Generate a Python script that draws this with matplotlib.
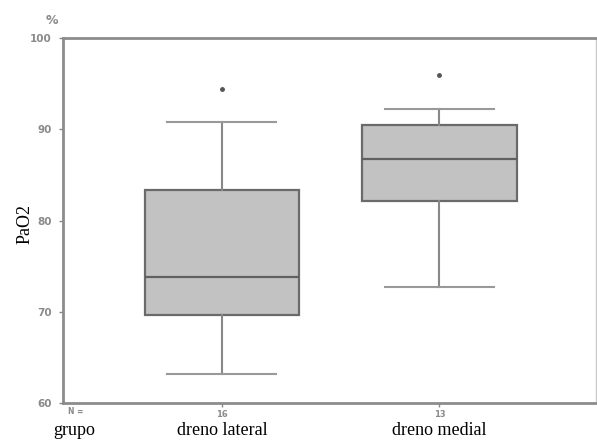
import numpy as np
import matplotlib.pyplot as plt

#---Data---
groups = ['dreno lateral', 'dreno medial']
counts = [16, 13]
whislo = [63.2, 72.7]
q1 = [69.6, 82.1]
med = [73.8, 86.7]
q3 = [83.4, 90.5]
whishi = [90.8, 92.2]
outliers = [[94.4], [96.0]]

stats = []
for i in range(len(groups)):
    stats.append(dict(label=groups[i], whislo=whislo[i], q1=q1[i], med=med[i],
                      q3=q3[i], whishi=whishi[i], fliers=outliers[i]))

#---Plot---
fig = plt.figure(figsize=(5.97, 4.44), dpi=100)
ax = fig.add_axes([0.1055, 0.0923, 0.893, 0.822])

ax.bxp(stats, positions=[1, 2], widths=0.71, patch_artist=True, showfliers=True,
       boxprops=dict(facecolor='#c2c2c2', edgecolor='#6a6a6a', linewidth=1.6),
       medianprops=dict(color='#606060', linewidth=1.6),
       whiskerprops=dict(color='#888888', linewidth=1.5),
       capprops=dict(color='#999999', linewidth=1.5),
       capwidths=0.5,
       flierprops=dict(marker='o', markersize=2.5, markerfacecolor='#555555',
                       markeredgecolor='#555555'))

ax.set_xlim(0.27, 2.72)
ax.set_ylim(60, 100)
ax.set_yticks([60, 70, 80, 90, 100])
ax.set_yticklabels(['60', '70', '80', '90', '100'], fontsize=7.5, color='#8a8a8a',
                   fontweight='bold')
ax.tick_params(axis='y', length=3, width=1, color='#888888', pad=5)
ax.set_xticks([1, 2])
ax.set_xticklabels([str(c) for c in counts], fontsize=6, color='#8a8a8a', fontweight='bold')
ax.tick_params(axis='x', length=3, width=1, color='#888888', pad=2)

for s in ['left', 'bottom', 'top']:
    ax.spines[s].set_color('#8c8c8c')
    ax.spines[s].set_linewidth(2)
ax.spines['right'].set_color('#c8c8c8')
ax.spines['right'].set_linewidth(1)

ax.text(-0.02, 1.03, '%', transform=ax.transAxes, fontsize=9, color='#8a8a8a',
        fontweight='bold', ha='center', va='bottom')
ax.text(0.01, -0.01, 'N =', transform=ax.transAxes, fontsize=5.5, color='#8a8a8a',
        fontweight='bold', ha='left', va='top')
ax.set_ylabel('PaO2', family='Liberation Serif', fontsize=13)
ax.yaxis.set_label_coords(-0.056, 0.49)

fig.text(0.09, 0.012, 'grupo', family='Liberation Serif', fontsize=13, ha='left', va='bottom')
for i, g in enumerate(groups):
    x = ax.transData.transform((i + 1, 60))[0] / fig.bbox.width
    fig.text(x, 0.012, g, family='Liberation Serif', fontsize=13, ha='center', va='bottom')

plt.savefig('out.png', dpi=100)
